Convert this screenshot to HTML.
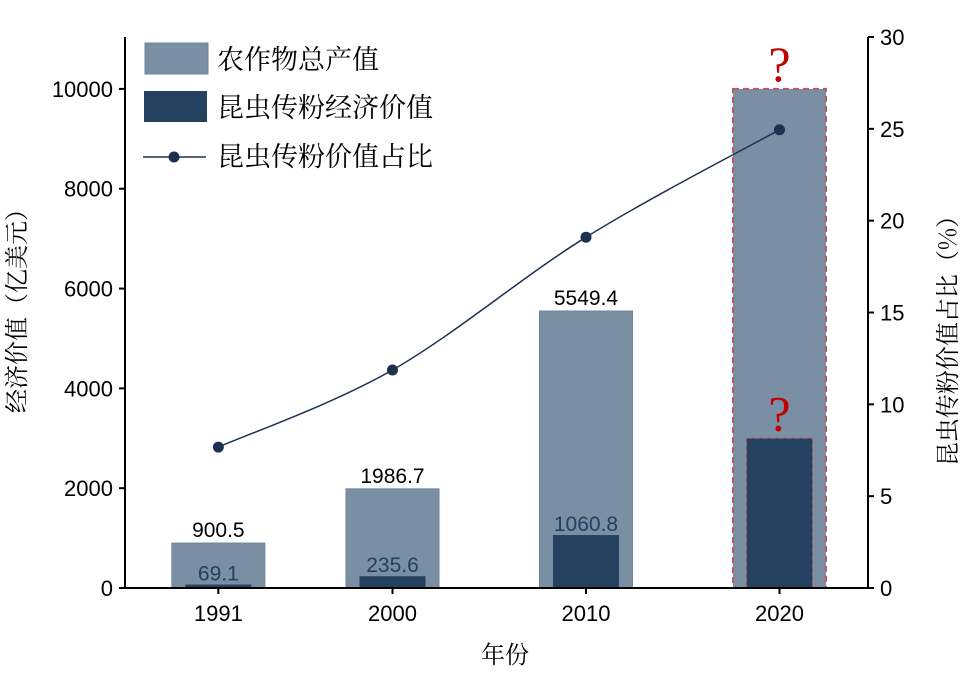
<!DOCTYPE html>
<html><head><meta charset="utf-8"><style>body{margin:0;background:#fff}svg{display:block}</style></head><body>
<svg id="c" width="965" height="675" xmlns="http://www.w3.org/2000/svg" font-family="Liberation Sans, sans-serif"></svg>
<script>
const categories=["1991","2000","2010","2020"];
const totalValues=[900.5,1986.7,5549.4,10000];
const insectValues=[69.1,235.6,1060.8,3000];
const totalLabels=["900.5","1986.7","5549.4",""];
const insectLabels=["69.1","235.6","1060.8",""];
const shareValues=[7.67,11.87,19.1,24.95];
const leftTicks=[0,2000,4000,6000,8000,10000];
const rightTicks=[0,5,10,15,20,25,30];
const NS="http://www.w3.org/2000/svg";
const svg=document.getElementById('c');
const x0=125,x1=868,yb=588,yt=37;
const yL=v=>yb-v*(yb-yt)/11040;
const yR=v=>yb-v*(yb-yt)/30;
const xC=i=>392.5+(Number(categories[i])-2000)*19.35;
function el(t,a,p){const e=document.createElementNS(NS,t);for(const k in a)e.setAttribute(k,a[k]);(p||svg).appendChild(e);return e;}
function tx(s,a){const e=el('text',a);e.textContent=s;return e;}
categories.forEach((c,i)=>{
  const last=i===3;
  let r=el('rect',{x:xC(i)-46.5,y:yL(totalValues[i]),width:93,height:yb-yL(totalValues[i]),fill:'#7a8ea4',stroke:last?'#b85a66':'#6f849c','stroke-width':last?2:1,'stroke-dasharray':last?'6,4':'none'});
  
  r=el('rect',{x:xC(i)-33,y:yL(insectValues[i]),width:66,height:yb-yL(insectValues[i]),fill:'#24415f',stroke:last?'#b85a66':'none','stroke-width':1,'stroke-dasharray':last?'5,3':'none'});
  
  if(totalLabels[i]){let t=tx(totalLabels[i],{x:xC(i),y:yL(totalValues[i])-6,'text-anchor':'middle','font-size':21,fill:'#000'});}
  if(insectLabels[i]){let t=tx(insectLabels[i],{x:xC(i),y:yL(insectValues[i])-4,'text-anchor':'middle','font-size':21,fill:'#24415f'});}
  let t=tx(c,{x:xC(i),y:621,'text-anchor':'middle','font-size':22});
  el('line',{x1:xC(i),x2:xC(i),y1:yb,y2:yb+6,stroke:'#000','stroke-width':2});
});
[totalValues[3],insectValues[3]].forEach((v,k)=>{let t=tx('?',{x:xC(3),y:yL(v)-8,'text-anchor':'middle','font-size':50,fill:'#c00000','font-family':'Liberation Serif, serif'});});
const pts=shareValues.map((v,i)=>[xC(i),yR(v)]);
let d='M'+pts[0].join(',');
for(let i=0;i<pts.length-1;i++){const p0=pts[i-1]||pts[i],p1=pts[i],p2=pts[i+1],p3=pts[i+2]||p2;
d+=` C${p1[0]+(p2[0]-p0[0])/6},${p1[1]+(p2[1]-p0[1])/6} ${p2[0]-(p3[0]-p1[0])/6},${p2[1]-(p3[1]-p1[1])/6} ${p2[0]},${p2[1]}`;}
let ln=el('path',{d:d,fill:'none',stroke:'#1c3150','stroke-width':1.5});
pts.forEach((p,i)=>{const c=el('circle',{cx:p[0],cy:p[1],r:5.5,fill:'#1c3150'});});
el('line',{x1:x0,x2:x1,y1:yb,y2:yb,stroke:'#000','stroke-width':2});
el('line',{x1:x0,x2:x0,y1:yt,y2:yb+1,stroke:'#000','stroke-width':2});
el('line',{x1:x1,x2:x1,y1:yt,y2:yb+1,stroke:'#000','stroke-width':2});
leftTicks.forEach(v=>{el('line',{x1:x0-6,x2:x0,y1:yL(v),y2:yL(v),stroke:'#000','stroke-width':2});let t=tx(v,{x:x0-12,y:yL(v)+8,'text-anchor':'end','font-size':22});});
rightTicks.forEach(v=>{el('line',{x1:x1,x2:x1+6,y1:yR(v),y2:yR(v),stroke:'#000','stroke-width':2});let t=tx(v,{x:x1+12,y:yR(v)+8,'font-size':22});});
const serif='Noto Serif CJK SC, serif';
let t=tx('年份',{x:505,y:663,'text-anchor':'middle','font-size':24,'font-family':serif});
t=tx('经济价值（亿美元）',{x:0,y:0,'text-anchor':'middle','font-size':24,'font-family':serif,transform:'translate(25,305) rotate(-90)'});
t=tx('昆虫传粉价值占比（%）',{x:0,y:0,'text-anchor':'middle','font-size':24,'font-family':serif,transform:'translate(956,335) rotate(-90)'});
let r=el('rect',{x:145,y:43,width:63,height:31,fill:'#7a8ea4',stroke:'#6f849c'});
r=el('rect',{x:144,y:91,width:63,height:31,fill:'#24415f'});
el('line',{x1:143,x2:206,y1:157,y2:157,stroke:'#1c3150','stroke-width':1.5});
el('circle',{cx:174,cy:157,r:5.5,fill:'#1c3150'});
[['农作物总产值',69],['昆虫传粉经济价值',117],['昆虫传粉价值占比',166]].forEach((a,k)=>{let t=tx(a[0],{x:217,y:a[1],'font-size':27,'font-family':serif});});
</script>
</body></html>
